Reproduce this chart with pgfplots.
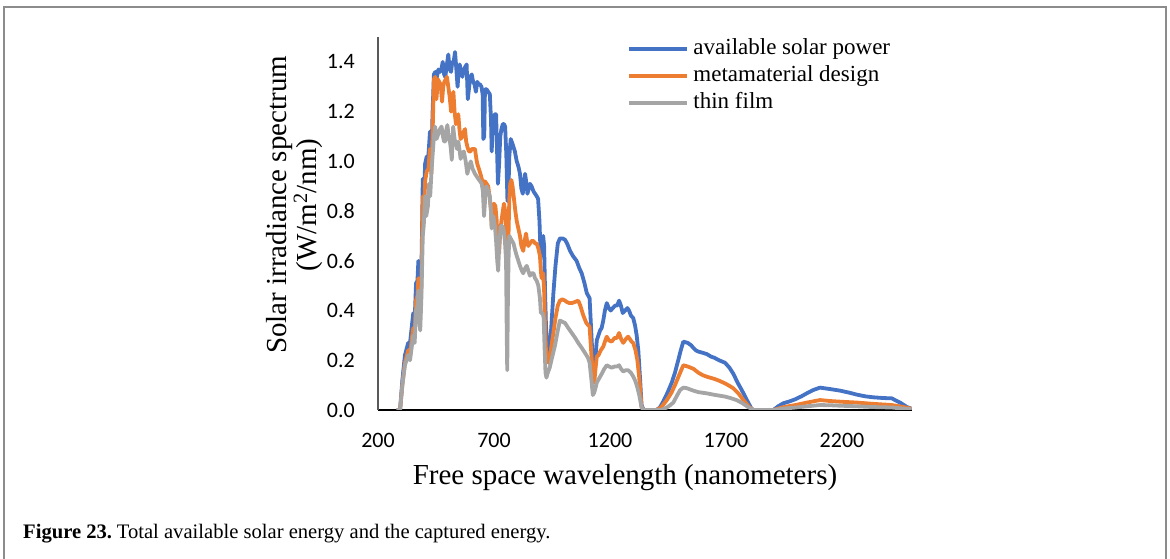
\documentclass[border=0pt]{standalone}
\usepackage{fontspec}
\setmainfont{Liberation Serif}
\newfontfamily\carlito{Carlito}
\usepackage{pgfplots}
\pgfplotsset{compat=1.18}
\definecolor{cblue}{HTML}{4472C4}
\definecolor{corange}{HTML}{ED7D31}
\definecolor{cgray}{HTML}{A5A5A5}
\begin{document}
\begin{tikzpicture}
\useasboundingbox (0,0) rectangle (1170bp,559bp);
\draw[color=black!45, line width=1.5bp] (4bp,0bp) -- (4bp,552bp) -- (1166bp,552bp) -- (1166bp,0bp);
\begin{axis}[
  at={(378bp,149bp)}, anchor=south west,
  scale only axis, width=533.6bp, height=372.9bp,
  xmin=200, xmax=2500, ymin=0, ymax=1.5,
  axis x line*=bottom, axis y line*=left,
  x axis line style={black, line width=1.2bp},
  y axis line style={black!65, line width=1.2bp},
  xtick={200,700,1200,1700,2200},
  ytick={0,0.2,0.4,0.6,0.8,1.0,1.2,1.4},
  major tick length=0pt,
  tick label style={font=\carlito\fontsize{22bp}{22bp}\selectfont},
  /pgf/number format/assume math mode=true,
  xticklabel style={/pgf/number format/1000 sep={}, anchor=north, inner sep=0pt, yshift=-23bp},
  yticklabel style={/pgf/number format/.cd, fixed, fixed zerofill, precision=1, /tikz/.cd, anchor=east, inner sep=0pt, xshift=-23bp},
  xlabel={Free space wavelength (nanometers)},
  every axis x label/.style={at={(axis description cs:0.4629,0)}, anchor=base, yshift=-75bp, font=\fontsize{29bp}{29bp}\selectfont},
  ylabel={Solar irradiance spectrum\\(W/m\textsuperscript{2}/nm)},
  every axis y label/.style={at={(axis description cs:-0.157,0.55)}, rotate=90, anchor=center, align=center, font=\fontsize{29bp}{25bp}\selectfont},
  legend style={draw=none, fill=none, at={(axis description cs:0.4665,0.998)}, anchor=north west, inner sep=0pt, outer sep=0pt, row sep=3.9bp, column sep=4.7bp, font=\fontsize{23bp}{23bp}\selectfont, nodes={inner sep=0pt, text height=17bp, text depth=6bp}},
  legend cell align=left,
  legend image code/.code={\draw[#1] (0bp,0bp) -- (58bp,0bp);},
  every axis plot/.append style={line width=3.8bp, line join=round},
]
\addplot[cblue] coordinates {
(280,0) (295,0) (305,0.12) (316,0.22) (330,0.27) (338,0.27) (345,0.33) (352,0.39) (358,0.36) (364,0.51) (370,0.52) (374,0.60) (378,0.48) (382,0.45) (387,0.55) (393,0.93) (397,0.80) (403,0.99) (410,1.02) (417,1.02) (424,1.12) (430,1.00) (435,1.19) (441,1.35) (447,1.36) (452,1.33) (460,1.37) (467,1.36) (473,1.37) (479,1.40) (485,1.35) (490,1.34) (497,1.39) (503,1.43) (509,1.37) (515,1.36) (520,1.40) (526,1.40) (532,1.44) (537,1.38) (543,1.30) (548,1.37) (552,1.39) (558,1.36) (564,1.34) (570,1.37) (576,1.38) (582,1.39) (587,1.25) (593,1.30) (598,1.34) (604,1.35) (610,1.32) (616,1.31) (622,1.28) (628,1.32) (634,1.31) (640,1.31) (646,1.30) (651,1.27) (654,1.09) (658,1.10) (661,1.29) (668,1.29) (675,1.28) (682,1.27) (687,1.17) (690,1.04) (694,1.13) (700,1.18) (704,1.19) (709,1.19) (713,1.05) (717,0.91) (722,0.99) (727,1.10) (732,1.13) (738,1.15) (743,1.15) (748,1.14) (753,1.03) (758,0.84) (762,0.87) (766,1.02) (772,1.09) (780,1.07) (790,1.04) (798,1.00) (805,0.98) (812,0.95) (818,0.89) (824,0.87) (830,0.92) (834,0.95) (840,0.91) (844,0.87) (850,0.89) (855,0.91) (862,0.90) (870,0.88) (877,0.87) (884,0.86) (890,0.85) (896,0.76) (900,0.65) (905,0.62) (908,0.69) (912,0.70) (916,0.66) (920,0.48) (924,0.34) (930,0.25) (935,0.21) (940,0.23) (948,0.35) (956,0.47) (965,0.58) (975,0.67) (984,0.69) (995,0.69) (1006,0.685) (1015,0.67) (1028,0.64) (1040,0.62) (1056,0.60) (1068,0.57) (1078,0.55) (1090,0.51) (1100,0.47) (1112,0.45) (1120,0.30) (1128,0.15) (1132,0.13) (1138,0.22) (1143,0.28) (1150,0.30) (1157,0.32) (1164,0.33) (1171,0.36) (1178,0.40) (1186,0.43) (1195,0.41) (1203,0.40) (1212,0.41) (1222,0.42) (1231,0.42) (1239,0.44) (1247,0.42) (1255,0.39) (1265,0.40) (1275,0.41) (1282,0.40) (1290,0.38) (1300,0.37) (1308,0.34) (1315,0.30) (1322,0.24) (1330,0.12) (1336,0.02) (1345,0) (1380,0) (1400,0) (1415,0.01) (1430,0.035) (1448,0.07) (1466,0.11) (1480,0.15) (1494,0.20) (1505,0.24) (1516,0.275) (1535,0.27) (1550,0.26) (1559,0.25) (1570,0.24) (1581,0.235) (1600,0.23) (1617,0.225) (1635,0.215) (1650,0.21) (1670,0.20) (1696,0.19) (1715,0.17) (1732,0.145) (1750,0.11) (1768,0.08) (1790,0.04) (1810,0.005) (1818,0) (1850,0) (1904,0) (1925,0.015) (1947,0.027) (1975,0.035) (1998,0.043) (2025,0.055) (2048,0.067) (2075,0.08) (2105,0.09) (2150,0.084) (2191,0.078) (2230,0.07) (2263,0.062) (2300,0.055) (2335,0.051) (2380,0.048) (2414,0.047) (2450,0.03) (2480,0.012) (2500,0.005)
};
\addlegendentry{available solar power}
\addplot[corange] coordinates {
(280,0) (295,0) (305,0.10) (316,0.19) (330,0.24) (338,0.22) (345,0.28) (352,0.33) (358,0.30) (364,0.44) (370,0.46) (374,0.53) (378,0.42) (382,0.38) (387,0.50) (393,0.86) (397,0.75) (403,0.92) (410,0.96) (417,0.97) (424,1.05) (430,0.95) (435,1.10) (441,1.33) (447,1.34) (452,1.25) (458,1.33) (464,1.32) (470,1.31) (476,1.24) (481,1.30) (486,1.32) (492,1.33) (497,1.34) (503,1.30) (509,1.26) (515,1.20) (520,1.22) (525,1.28) (530,1.20) (536,1.15) (541,1.16) (546,1.19) (551,1.13) (556,1.09) (563,1.10) (570,1.12) (575,1.13) (580,1.08) (585,1.06) (592,1.04) (598,1.04) (605,1.05) (612,1.05) (618,1.05) (624,1.01) (628,0.99) (635,0.97) (643,0.945) (650,0.92) (654,0.88) (658,0.90) (661,0.92) (668,0.91) (675,0.90) (682,0.85) (687,0.80) (690,0.74) (695,0.80) (700,0.83) (706,0.82) (711,0.77) (717,0.66) (722,0.63) (727,0.72) (732,0.76) (738,0.80) (743,0.83) (748,0.80) (753,0.72) (758,0.62) (762,0.68) (766,0.85) (770,0.91) (775,0.925) (780,0.90) (786,0.85) (792,0.80) (798,0.76) (805,0.73) (812,0.70) (818,0.66) (826,0.64) (832,0.68) (838,0.71) (844,0.67) (848,0.66) (855,0.67) (862,0.68) (870,0.68) (877,0.67) (884,0.67) (891,0.65) (898,0.62) (902,0.56) (905,0.53) (908,0.54) (912,0.55) (916,0.48) (920,0.33) (924,0.24) (930,0.20) (935,0.19) (940,0.21) (948,0.26) (956,0.31) (965,0.37) (975,0.42) (984,0.44) (995,0.445) (1006,0.44) (1013,0.435) (1025,0.43) (1035,0.43) (1050,0.435) (1063,0.44) (1072,0.42) (1085,0.38) (1098,0.35) (1112,0.335) (1120,0.22) (1128,0.12) (1132,0.11) (1138,0.17) (1143,0.215) (1150,0.22) (1160,0.24) (1171,0.255) (1180,0.28) (1186,0.295) (1195,0.28) (1207,0.275) (1220,0.29) (1230,0.29) (1239,0.31) (1248,0.285) (1257,0.27) (1268,0.285) (1278,0.295) (1286,0.285) (1293,0.275) (1300,0.27) (1310,0.24) (1318,0.20) (1326,0.13) (1336,0.013) (1345,0) (1400,0) (1420,0.01) (1445,0.04) (1465,0.07) (1480,0.10) (1500,0.145) (1516,0.18) (1535,0.175) (1559,0.166) (1581,0.15) (1600,0.14) (1617,0.134) (1650,0.125) (1670,0.118) (1696,0.107) (1715,0.097) (1732,0.087) (1755,0.065) (1775,0.04) (1800,0.012) (1818,0) (1904,0) (1950,0.012) (2000,0.02) (2050,0.03) (2105,0.04) (2150,0.036) (2200,0.033) (2263,0.03) (2330,0.025) (2414,0.02) (2460,0.013) (2500,0.005)
};
\addlegendentry{metamaterial design}
\addplot[cgray] coordinates {
(280,0) (295,0) (305,0.10) (316,0.18) (330,0.22) (338,0.20) (345,0.25) (352,0.30) (358,0.27) (364,0.40) (370,0.42) (374,0.48) (378,0.36) (382,0.32) (387,0.45) (393,0.70) (397,0.74) (403,0.86) (408,0.78) (415,0.82) (420,0.91) (425,0.86) (430,0.95) (435,1.02) (441,1.10) (446,1.14) (452,1.09) (460,1.11) (467,1.13) (474,1.14) (480,1.10) (485,1.08) (490,1.08) (495,1.13) (499,1.146) (505,1.10) (510,1.08) (514,1.05) (518,1.006) (524,1.14) (530,1.09) (536,1.07) (541,1.05) (546,1.08) (551,1.05) (556,1.01) (563,1.03) (570,1.04) (578,1.00) (585,0.95) (592,0.98) (600,1.00) (608,0.97) (618,0.95) (625,0.94) (632,0.93) (640,0.92) (647,0.91) (652,0.88) (657,0.78) (662,0.85) (668,0.90) (675,0.88) (682,0.86) (687,0.80) (690,0.73) (697,0.78) (704,0.74) (709,0.68) (714,0.60) (718,0.56) (722,0.66) (729,0.74) (737,0.74) (742,0.72) (747,0.68) (752,0.60) (755,0.30) (757,0.16) (760,0.45) (763,0.62) (766,0.70) (772,0.69) (778,0.68) (784,0.67) (792,0.64) (798,0.62) (805,0.60) (812,0.58) (820,0.56) (826,0.55) (834,0.57) (841,0.58) (848,0.56) (855,0.54) (862,0.55) (870,0.55) (877,0.53) (884,0.52) (891,0.50) (898,0.45) (902,0.39) (905,0.39) (910,0.39) (914,0.37) (918,0.25) (922,0.15) (926,0.13) (932,0.15) (940,0.17) (950,0.21) (963,0.26) (975,0.32) (984,0.36) (995,0.355) (1006,0.35) (1020,0.33) (1035,0.31) (1050,0.29) (1063,0.27) (1078,0.25) (1092,0.23) (1105,0.21) (1112,0.19) (1120,0.12) (1126,0.06) (1132,0.07) (1138,0.09) (1143,0.11) (1155,0.13) (1164,0.145) (1175,0.165) (1186,0.18) (1196,0.175) (1207,0.17) (1220,0.175) (1230,0.175) (1239,0.18) (1248,0.165) (1257,0.155) (1268,0.16) (1278,0.16) (1290,0.15) (1300,0.135) (1310,0.115) (1318,0.09) (1326,0.06) (1336,0.01) (1345,0) (1420,0) (1445,0.01) (1460,0.02) (1473,0.03) (1490,0.06) (1502,0.08) (1516,0.09) (1530,0.088) (1559,0.078) (1580,0.072) (1617,0.067) (1650,0.061) (1696,0.054) (1720,0.048) (1745,0.04) (1770,0.028) (1795,0.012) (1818,0) (1904,0) (1950,0.006) (2000,0.01) (2050,0.015) (2105,0.02) (2150,0.019) (2200,0.017) (2263,0.015) (2330,0.012) (2414,0.01) (2460,0.006) (2500,0.003)
};
\addlegendentry{thin film}
\end{axis}
\node[anchor=base west, inner sep=0pt, font=\fontsize{20.6bp}{20.6bp}\selectfont] at (23bp,21bp) {\textbf{Figure 23.}\hspace{-0.1em} Total available solar energy and the captured energy.};
\end{tikzpicture}
\end{document}
